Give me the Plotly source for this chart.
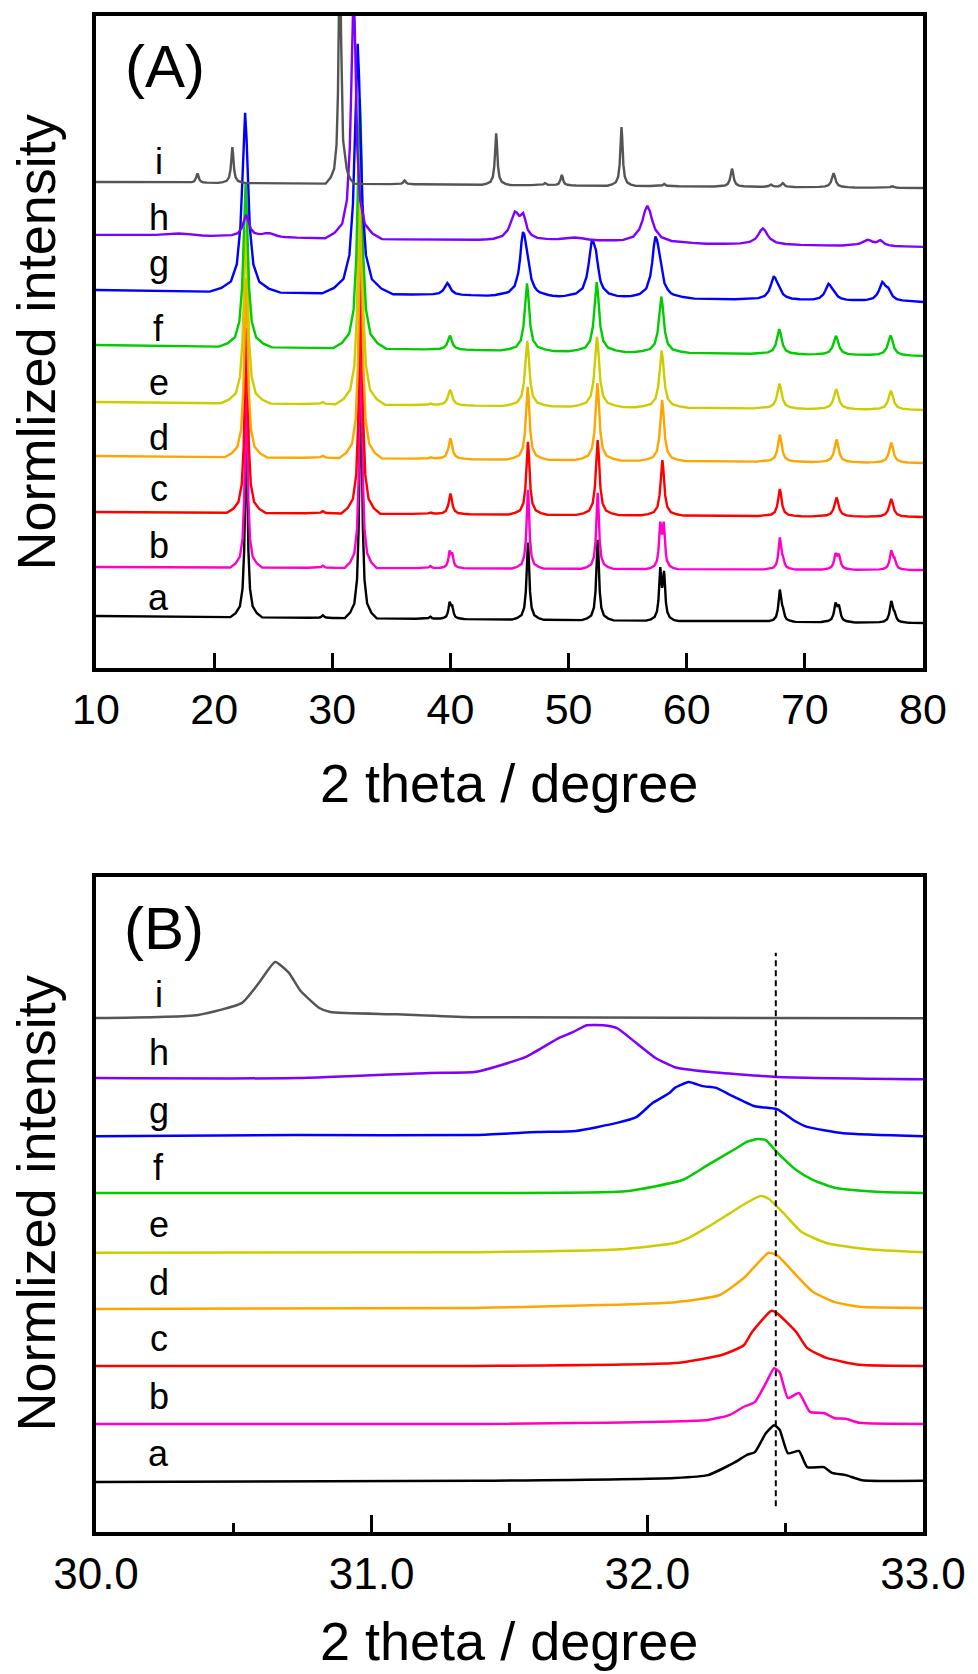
import numpy as np
import plotly.graph_objects as go

SERIES = ["a", "b", "c", "d", "e", "f", "g", "h", "i"]
COLORS = ["#000000", "#ff00cc", "#ff0000", "#ffa500", "#cccc00",
          "#00cc00", "#0000ff", "#7f00ff", "#555555"]

# ---------------- Panel A: 2theta 10-80, stacked patterns ----------------
# baseline (offset) of each pattern at 10 deg and at 80 deg
A_BASE_LEFT = [0.957, 1.859, 2.871, 3.902, 4.896, 5.945, 6.957, 7.970, 8.945]
A_BASE_RIGHT = [0.828, 1.804, 2.779, 3.773, 4.749, 5.743, 6.737, 7.749, 8.835]

# peaks: (position deg, height, width deg)
PEAKS_a = [(22.72, 3.4, 0.45), (29.2, 0.05, 0.4), (32.41, 4.6, 0.45), (38.3, 0.04, 0.4),
           (39.93, 0.27, 0.4), (40.15, 0.18, 0.4), (46.56, 1.42, 0.45), (52.46, 1.48, 0.45),
           (57.76, 0.88, 0.4), (58.08, 0.80, 0.4), (67.88, 0.56, 0.45), (68.14, 0.14, 0.45),
           (72.60, 0.30, 0.5), (72.88, 0.25, 0.5), (77.31, 0.37, 0.5), (77.58, 0.12, 0.5)]
PEAKS_b = [(22.72, 3.4, 0.45), (29.2, 0.04, 0.4), (32.41, 4.6, 0.45), (38.3, 0.04, 0.4),
           (39.93, 0.27, 0.4), (40.15, 0.22, 0.4), (46.56, 1.45, 0.45), (52.46, 1.40, 0.45),
           (57.76, 0.76, 0.4), (58.05, 0.76, 0.4), (67.88, 0.56, 0.45), (68.14, 0.12, 0.45),
           (72.60, 0.25, 0.5), (72.88, 0.23, 0.5), (77.31, 0.32, 0.5), (77.58, 0.15, 0.5)]
PEAKS_c = [(22.72, 3.4, 0.55), (29.2, 0.04, 0.5), (32.41, 4.6, 0.55), (38.3, 0.03, 0.5),
           (40.0, 0.38, 0.55), (46.56, 1.34, 0.55), (52.46, 1.38, 0.6), (57.94, 1.02, 0.6),
           (67.88, 0.50, 0.6), (72.68, 0.35, 0.7), (77.31, 0.33, 0.7)]
PEAKS_d = [(22.70, 3.3, 0.6), (29.2, 0.04, 0.5), (32.40, 4.6, 0.6), (38.3, 0.03, 0.5),
           (40.0, 0.38, 0.6), (46.54, 1.34, 0.6), (52.44, 1.42, 0.65), (57.92, 1.12, 0.65),
           (67.88, 0.50, 0.65), (72.68, 0.42, 0.7), (77.31, 0.37, 0.7)]
PEAKS_e = [(22.68, 3.2, 0.7), (29.2, 0.04, 0.5), (32.36, 4.6, 0.7), (38.3, 0.03, 0.5),
           (39.97, 0.29, 0.7), (46.50, 1.20, 0.7), (52.40, 1.29, 0.75), (57.88, 1.05, 0.75),
           (67.85, 0.46, 0.75), (72.65, 0.37, 0.8), (77.28, 0.35, 0.8)]
PEAKS_f = [(22.66, 3.0, 0.75), (32.33, 4.6, 0.75), (39.95, 0.26, 0.7), (46.48, 1.24, 0.75),
           (52.38, 1.28, 0.8), (57.85, 1.03, 0.8), (67.83, 0.46, 0.8), (72.63, 0.35, 0.85),
           (77.25, 0.37, 0.85)]
PEAKS_g = [(22.62, 3.3, 1.0), (32.15, 4.6, 1.0), (39.74, 0.22, 1.0), (46.14, 1.02, 1.0),
           (46.50, 0.45, 0.9), (51.96, 0.88, 1.1), (52.32, 0.45, 0.9), (57.35, 0.98, 1.1),
           (57.70, 0.35, 1.0), (67.37, 0.40, 1.1), (67.80, 0.12, 0.9), (72.00, 0.28, 1.1),
           (72.45, 0.10, 0.9), (76.55, 0.31, 1.1), (77.05, 0.16, 1.0)]
PEAKS_h = [(17.0, 0.05, 5.0), (22.7, 0.40, 1.0), (24.6, 0.07, 2.0), (31.8, 4.6, 0.8),
           (45.45, 0.48, 1.5), (46.15, 0.36, 1.0), (50.5, 0.08, 5.0), (56.67, 0.68, 1.7),
           (66.45, 0.30, 1.6), (75.30, 0.11, 1.8), (76.40, 0.09, 1.0)]
PEAKS_i = [(18.59, 0.17, 0.4), (21.54, 0.66, 0.4), (30.64, 4.6, 0.4), (31.06, 0.18, 0.4),
           (36.12, 0.07, 0.4), (43.87, 0.95, 0.4), (48.00, 0.04, 0.4), (49.43, 0.19, 0.4),
           (54.48, 1.08, 0.4), (58.10, 0.04, 0.4), (63.83, 0.33, 0.5), (67.12, 0.04, 0.5),
           (68.13, 0.07, 0.5), (72.43, 0.26, 0.6), (77.40, 0.03, 0.5)]
A_PEAKS = [PEAKS_a, PEAKS_b, PEAKS_c, PEAKS_d, PEAKS_e, PEAKS_f, PEAKS_g, PEAKS_h, PEAKS_i]

A_LABEL_Y = [1.29, 2.26, 3.31, 4.25, 5.26, 6.24, 7.44, 8.30, 9.33]
A_X_TICKS = [10, 20, 30, 40, 50, 60, 70, 80]

# ---------------- Panel B: zoom 30-33 deg ----------------
B_X_a = [30.0, 31.38, 32.10, 32.22, 32.32, 32.36, 32.39, 32.43, 32.46, 32.48, 32.51, 32.55, 32.58, 32.64, 32.67, 32.72, 32.78, 33.0]
B_Y_a = [0.87, 0.89, 0.94, 0.99, 1.22, 1.34, 1.39, 1.72, 1.86, 1.78, 1.37, 1.41, 1.13, 1.13, 1.03, 0.99, 0.90, 0.89]
B_X_b = [30.0, 31.38, 32.22, 32.30, 32.35, 32.39, 32.43, 32.46, 32.48, 32.51, 32.55, 32.59, 32.64, 32.68, 32.72, 32.77, 33.0]
B_Y_b = [1.88, 1.88, 1.95, 2.04, 2.18, 2.26, 2.59, 2.85, 2.78, 2.33, 2.42, 2.09, 2.07, 1.98, 1.97, 1.90, 1.88]
B_X_c = [30.0, 31.38, 32.10, 32.27, 32.35, 32.38, 32.45, 32.47, 32.54, 32.58, 32.65, 32.77, 33.0]
B_Y_c = [2.89, 2.89, 2.94, 3.08, 3.25, 3.48, 3.85, 3.81, 3.48, 3.20, 3.03, 2.91, 2.89]
B_X_d = [30.0, 31.38, 32.10, 32.26, 32.35, 32.44, 32.47, 32.54, 32.60, 32.68, 32.77, 33.0]
B_Y_d = [3.88, 3.90, 4.00, 4.12, 4.42, 4.86, 4.82, 4.47, 4.18, 4.00, 3.92, 3.90]
B_X_e = [30.0, 31.38, 31.90, 32.10, 32.15, 32.22, 32.30, 32.36, 32.41, 32.44, 32.49, 32.56, 32.65, 32.80, 33.0]
B_Y_e = [4.86, 4.87, 4.92, 5.03, 5.12, 5.31, 5.55, 5.73, 5.85, 5.80, 5.57, 5.22, 5.03, 4.92, 4.87]
B_X_f = [30.0, 31.38, 31.92, 32.13, 32.22, 32.32, 32.36, 32.40, 32.43, 32.47, 32.54, 32.60, 32.68, 32.83, 33.0]
B_Y_f = [5.90, 5.90, 5.93, 6.13, 6.39, 6.67, 6.79, 6.84, 6.82, 6.61, 6.30, 6.13, 5.99, 5.92, 5.90]
B_X_g = [30.0, 30.73, 31.38, 31.60, 31.74, 31.89, 31.96, 32.02, 32.08, 32.10, 32.15, 32.20, 32.25, 32.30, 32.39, 32.47, 32.54, 32.58, 32.71, 33.0]
B_Y_g = [6.89, 6.91, 6.91, 6.96, 6.98, 7.12, 7.22, 7.47, 7.64, 7.73, 7.83, 7.76, 7.73, 7.61, 7.41, 7.36, 7.14, 7.05, 6.94, 6.89]
B_X_h = [30.0, 30.73, 31.21, 31.38, 31.56, 31.68, 31.73, 31.78, 31.84, 31.89, 31.96, 32.03, 32.10, 32.22, 32.47, 33.0]
B_Y_h = [7.90, 7.90, 7.99, 8.01, 8.27, 8.60, 8.70, 8.82, 8.82, 8.77, 8.51, 8.25, 8.09, 8.01, 7.92, 7.88]
B_X_i = [30.0, 30.37, 30.53, 30.59, 30.65, 30.70, 30.74, 30.81, 30.85, 31.09, 31.36, 33.0]
B_Y_i = [8.945, 9.0, 9.21, 9.55, 9.92, 9.73, 9.43, 9.12, 9.05, 9.01, 8.96, 8.94]
B_X = [B_X_a, B_X_b, B_X_c, B_X_d, B_X_e, B_X_f, B_X_g, B_X_h, B_X_i]
B_Y = [B_Y_a, B_Y_b, B_Y_c, B_Y_d, B_Y_e, B_Y_f, B_Y_g, B_Y_h, B_Y_i]
B_LABEL_Y = [1.36, 2.35, 3.36, 4.35, 5.36, 6.35, 7.34, 8.35, 9.35]
B_REF_X = 32.466
B_REF_Y = [0.45, 10.08]
B_X_TICKS = [30.0, 31.0, 32.0, 33.0]

# ---------------- styles ----------------
FONT = "Liberation Sans"
# Lorentz-like peak profile template (relative offset, fraction of height) - drawing style
T_DX = np.array([-3.0, -2.0, -1.2, -0.7, -0.4, -0.25, -0.12, 0.0, 0.12, 0.25, 0.4, 0.7, 1.2, 2.0, 3.0])
T_FR = np.array([0.0, 0.022, 0.059, 0.155, 0.36, 0.59, 0.862, 1.0, 0.862, 0.59, 0.36, 0.155, 0.059, 0.022, 0.0])


def pattern(peaks, base_l, base_r, x0=10.0, x1=80.0):
    xs = {x0, x1}
    for c, h, w in peaks:
        for d in T_DX:
            xs.add(round(c + d * w, 4))
    xs = sorted(x for x in xs if x0 <= x <= x1)
    ys = []
    for x in xs:
        y = base_l + (base_r - base_l) * (x - x0) / (x1 - x0)
        for c, h, w in peaks:
            y += h * float(np.interp((x - c) / w, T_DX, T_FR, left=0.0, right=0.0))
        ys.append(y)
    return xs, ys


fig = go.Figure()

for k, s in enumerate(SERIES):
    xs, ys = pattern(A_PEAKS[k], A_BASE_LEFT[k], A_BASE_RIGHT[k])
    fig.add_trace(go.Scatter(x=xs, y=ys, mode="lines", name=s,
                             line=dict(color=COLORS[k], width=2.4),
                             xaxis="x", yaxis="y", hoverinfo="skip"))

for k, s in enumerate(SERIES):
    fig.add_trace(go.Scatter(x=B_X[k], y=B_Y[k], mode="lines", name=s,
                             line=dict(color=COLORS[k], width=2.5, shape="spline", smoothing=0.5),
                             xaxis="x2", yaxis="y2", hoverinfo="skip"))

fig.add_trace(go.Scatter(x=[B_REF_X, B_REF_X], y=B_REF_Y, mode="lines",
                         line=dict(color="black", width=2, dash="6px,4px"),
                         xaxis="x2", yaxis="y2", hoverinfo="skip"))

annotations = []
for k, s in enumerate(SERIES):
    annotations.append(dict(x=15.3, y=A_LABEL_Y[k], xref="x", yref="y", text=s,
                            showarrow=False, font=dict(family=FONT, size=36, color="black"),
                            xanchor="center", yanchor="middle"))
    annotations.append(dict(x=30.227, y=B_LABEL_Y[k], xref="x2", yref="y2", text=s,
                            showarrow=False, font=dict(family=FONT, size=36, color="black"),
                            xanchor="center", yanchor="middle"))

PLOT_TOP, PLOT_BOTTOM, PLOT_LEFT, PLOT_RIGHT = 16, 1532, 96, 929
H = PLOT_BOTTOM - PLOT_TOP
W = PLOT_RIGHT - PLOT_LEFT


def px(xp, yp):
    return (xp - PLOT_LEFT) / W, (PLOT_BOTTOM - yp) / H


for txt, (xp, yp), size, ang in [
    ("(A)", (166, 67), 60, 0), ("(B)", (164, 928), 60, 0),
    ("2 theta / degree", (512, 783), 54, 0), ("2 theta / degree", (512, 1641), 54, 0),
    ("Normlized intensity", (36, 342), 54, -90), ("Normlized intensity", (36, 1203), 54, -90),
]:
    xx, yy = px(xp, yp)
    annotations.append(dict(x=xx, y=yy, xref="paper", yref="paper", text=txt, showarrow=False,
                            textangle=ang, font=dict(family=FONT, size=size, color="black"),
                            xanchor="center", yanchor="middle"))

axis_common = dict(showline=True, linewidth=4, linecolor="black", mirror=True,
                   showgrid=False, zeroline=False)

fig.update_layout(
    width=978, height=1674,
    margin=dict(l=PLOT_LEFT, r=978 - PLOT_RIGHT, t=PLOT_TOP, b=1674 - PLOT_BOTTOM),
    paper_bgcolor="white", plot_bgcolor="white", showlegend=False,
    xaxis=dict(domain=[0, 1], anchor="y", range=[10, 80], tickvals=A_X_TICKS,
               ticks="inside", ticklen=15, tickwidth=3, tickcolor="black",
               tickfont=dict(family=FONT, size=43, color="black"), ticklabelstandoff=0,
               **axis_common),
    yaxis=dict(domain=[(PLOT_BOTTOM - 668) / H, 1], anchor="x", range=[0, 12],
               showticklabels=False, ticks="", **axis_common),
    xaxis2=dict(domain=[0, 1], anchor="y2", range=[30, 33], tickvals=B_X_TICKS,
                tickformat=".1f", ticks="inside", ticklen=17, tickwidth=3, tickcolor="black",
                minor=dict(dtick=0.5, ticks="inside", ticklen=9, tickwidth=3, tickcolor="black"),
                tickfont=dict(family=FONT, size=44, color="black"), ticklabelstandoff=0,
                **axis_common),
    yaxis2=dict(domain=[0, (PLOT_BOTTOM - 877) / H], anchor="x2", range=[0, 11.4],
                showticklabels=False, ticks="", **axis_common),
    annotations=annotations,
)

# place the figure at the page origin (no default body margin / scrollbars), no modebar
fig.write_html("out.html", config={"displayModeBar": False},
               post_script="document.body.style.margin='0';document.body.style.overflow='hidden';")
